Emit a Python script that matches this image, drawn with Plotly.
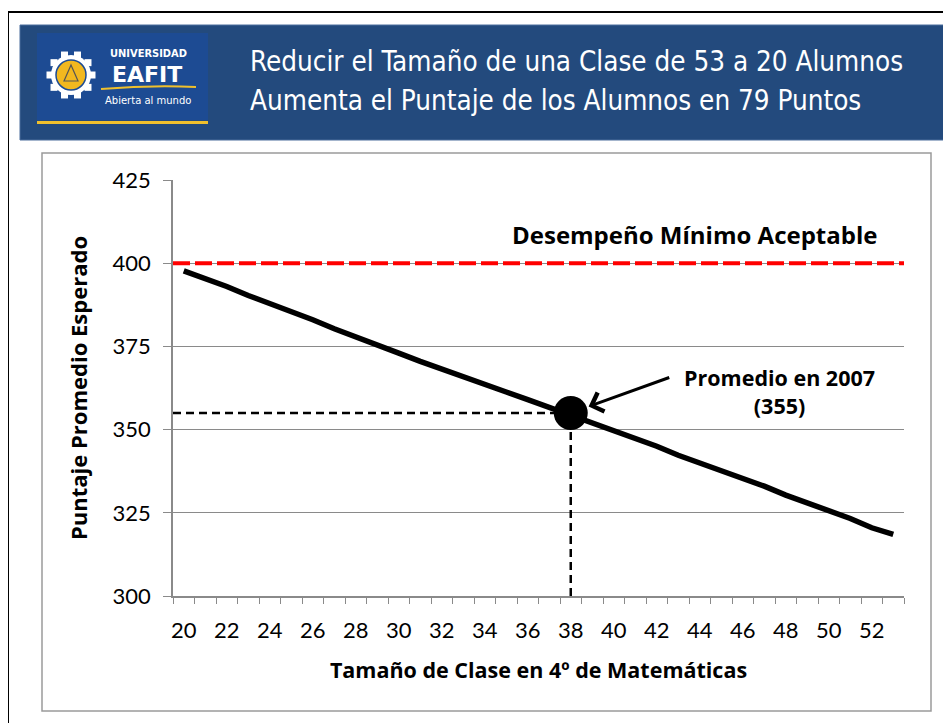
import math
import plotly.graph_objects as go

# ---------------- data ----------------
class_size = [20, 21, 22, 23, 24, 25, 26, 27, 28, 29, 30, 31, 32, 33, 34, 35, 36,
              37, 38, 39, 40, 41, 42, 43, 44, 45, 46, 47, 48, 49, 50, 51, 52, 53]
expected_score = [397.7, 395.5, 393.0, 390.3, 388.0, 385.3, 383.0, 380.3, 378.0,
                  375.3, 373.0, 370.5, 368.3, 365.8, 363.8, 361.3, 359.0, 356.7,
                  354.5, 352.3, 350.0, 347.3, 345.0, 342.3, 340.0, 337.8, 335.3,
                  333.0, 330.3, 328.0, 325.3, 323.3, 320.5, 318.5]
x_tick_vals = [20, 22, 24, 26, 28, 30, 32, 34, 36, 38, 40, 42, 44, 46, 48, 50, 52]
x_tick_text = ["20", "22", "24", "26", "28", "30", "32", "34", "36", "38", "40",
               "42", "44", "46", "48", "50", "52"]
y_tick_vals = [300, 325, 350, 375, 400, 425]
min_acceptable = 400
avg_2007_size = 38
avg_2007_score = 355

title_line1 = "Reducir el Tamaño de una Clase de 53 a 20 Alumnos"
title_line2 = "Aumenta el Puntaje de los Alumnos en 79 Puntos"

# ---------------- layout helpers (page pixel -> paper) ----------------
OFF = 8                      # default body margin of the html page
PAGE_W, PAGE_H = 951, 723
W, H = PAGE_W - OFF, PAGE_H - OFF
PL, PR, PT, PB = 173, 904, 180, 596          # plot area in page pixels


def X(px):
    return (px - PL) / (PR - PL)


def Y(py):
    return (PB - py) / (PB - PT)


TICK_FONT = "Lato, 'Open Sans', sans-serif"
BOLD_FONT = "'Open Sans', Lato, sans-serif"
TITLE_FONT = "'Liberation Sans Narrow', 'Arial Narrow', 'DejaVu Sans Condensed', sans-serif"
GRID = "#8a8a8a"

fig = go.Figure()

fig.add_trace(go.Scatter(
    x=class_size, y=expected_score, mode="lines",
    line=dict(color="black", width=5.5), hoverinfo="skip", showlegend=False))

fig.add_trace(go.Scatter(
    x=[avg_2007_size], y=[avg_2007_score], mode="markers",
    marker=dict(color="black", size=34), hoverinfo="skip", showlegend=False))

shapes = []
# outer black frame (left & top visible)
shapes.append(dict(type="rect", xref="paper", yref="paper",
                   x0=X(8), x1=X(PAGE_W + 20), y0=Y(12), y1=Y(PAGE_H + 20),
                   line=dict(color="black", width=2), fillcolor="rgba(0,0,0,0)", layer="below"))
# header band
shapes.append(dict(type="rect", xref="paper", yref="paper",
                   x0=X(20), x1=X(PAGE_W + 10), y0=Y(25), y1=Y(140),
                   line=dict(color="#4b6d9c", width=1), fillcolor="#234a7d", layer="below"))
# logo box
shapes.append(dict(type="rect", xref="paper", yref="paper",
                   x0=X(37), x1=X(208), y0=Y(33), y1=Y(120),
                   line=dict(width=0), fillcolor="#1d4b93", layer="below"))
# logo yellow bar
shapes.append(dict(type="rect", xref="paper", yref="paper",
                   x0=X(37), x1=X(208), y0=Y(121), y1=Y(124),
                   line=dict(width=0), fillcolor="#f0c02c", layer="below"))
# gear
gcx, gcy = 71, 75
for k in range(10):
    a = 2 * math.pi * k / 10
    tx, ty = gcx + 21 * math.cos(a), gcy + 21 * math.sin(a)
    shapes.append(dict(type="rect", xref="paper", yref="paper",
                       x0=X(tx - 3.5), x1=X(tx + 3.5), y0=Y(ty - 3.5), y1=Y(ty + 3.5),
                       line=dict(width=0), fillcolor="white", layer="below"))
shapes.append(dict(type="circle", xref="paper", yref="paper",
                   x0=X(gcx - 20), x1=X(gcx + 20), y0=Y(gcy - 20), y1=Y(gcy + 20),
                   line=dict(width=0), fillcolor="white", layer="below"))
shapes.append(dict(type="circle", xref="paper", yref="paper",
                   x0=X(gcx - 15), x1=X(gcx + 15), y0=Y(gcy - 15), y1=Y(gcy + 15),
                   line=dict(color="#1d4b93", width=1.5), fillcolor="#f2b81f", layer="below"))
shapes.append(dict(type="path", xref="paper", yref="paper",
                   path=f"M {X(gcx-7)},{Y(gcy+6)} L {X(gcx)},{Y(gcy-10)} L {X(gcx+7)},{Y(gcy+6)} Z",
                   line=dict(color="#555555", width=1.2), fillcolor="rgba(0,0,0,0)", layer="below"))
# yellow swoosh under EAFIT
shapes.append(dict(type="path", xref="paper", yref="paper",
                   path=f"M {X(101)},{Y(89)} Q {X(150)},{Y(85)} {X(196)},{Y(87)}",
                   line=dict(color="#f0c02c", width=2), layer="below"))
# chart box
shapes.append(dict(type="rect", xref="paper", yref="paper",
                   x0=X(42), x1=X(931), y0=Y(153), y1=Y(711),
                   line=dict(color="#9a9a9a", width=1.5), fillcolor="white", layer="below"))
# minimum acceptable line
shapes.append(dict(type="line", xref="x domain", yref="y",
                   x0=0, x1=1, y0=min_acceptable, y1=min_acceptable,
                   line=dict(color="#ff0000", width=4, dash="17px,5px"), layer="above"))
# guide lines to 2007 average
shapes.append(dict(type="line", xref="x domain", yref="y",
                   x0=0, x1=(avg_2007_size - 19.5) / 34, y0=avg_2007_score, y1=avg_2007_score,
                   line=dict(color="black", width=2.5, dash="8px,5px"), layer="above"))
shapes.append(dict(type="line", xref="x", yref="y",
                   x0=avg_2007_size, x1=avg_2007_size, y0=300, y1=avg_2007_score,
                   line=dict(color="black", width=2.5, dash="8px,5px"), layer="above"))

annotations = [
    dict(xref="paper", yref="paper", x=X(248), y=Y(62), xanchor="left", yanchor="middle",
         text=title_line1, showarrow=False,
         font=dict(family=TITLE_FONT, size=27.6, color="white")),
    dict(xref="paper", yref="paper", x=X(248), y=Y(101), xanchor="left", yanchor="middle",
         text=title_line2, showarrow=False,
         font=dict(family=TITLE_FONT, size=27.6, color="white")),
    dict(xref="paper", yref="paper", x=X(148), y=Y(53), xanchor="center", yanchor="middle",
         text="<b>UNIVERSIDAD</b>", showarrow=False,
         font=dict(family="'DejaVu Sans Condensed', sans-serif", size=11, color="white")),
    dict(xref="paper", yref="paper", x=X(147), y=Y(74), xanchor="center", yanchor="middle",
         text="<b>EAFIT</b>", showarrow=False,
         font=dict(family="'DejaVu Sans', sans-serif", size=22, color="white")),
    dict(xref="paper", yref="paper", x=X(148), y=Y(100), xanchor="center", yanchor="middle",
         text="Abierta al mundo", showarrow=False,
         font=dict(family="'DejaVu Sans', sans-serif", size=10, color="white")),
    dict(xref="x", yref="y", x=52.35, y=408.5, xanchor="right", yanchor="middle",
         text="<b>Desempeño Mínimo Aceptable</b>", showarrow=False,
         font=dict(family=BOLD_FONT, size=24, color="black")),
    dict(xref="x", yref="y", x=47.7, y=361.5, xanchor="center", yanchor="middle",
         text="<b>Promedio en 2007<br>(355)</b>", showarrow=False,
         font=dict(family=BOLD_FONT, size=21.5, color="black")),
    dict(xref="x", yref="y", x=avg_2007_size, y=avg_2007_score,
         ax=100, ay=-36, axref="pixel", ayref="pixel", text="", showarrow=True,
         arrowhead=4, arrowsize=1.3, arrowwidth=3, arrowcolor="black", standoff=19),
]

fig.update_layout(
    width=W, height=H,
    margin=dict(l=PL - OFF, r=W - (PR - OFF), t=PT - OFF, b=H - (PB - OFF), pad=0),
    paper_bgcolor="white", plot_bgcolor="rgba(0,0,0,0)",
    shapes=shapes, annotations=annotations, showlegend=False,
    xaxis=dict(
        range=[19.5, 53.5], tickvals=x_tick_vals, ticktext=x_tick_text,
        ticks="", showgrid=False, zeroline=False,
        showline=True, linecolor=GRID, linewidth=1.5,
        ticklabelstandoff=14,
        tickfont=dict(family=TICK_FONT, size=22, color="black"),
        minor=dict(tick0=19.5, dtick=1, ticks="outside", ticklen=6,
                   tickcolor=GRID, tickwidth=1.2, showgrid=False),
        title=dict(text="<b>Tamaño de Clase en 4º de Matemáticas</b>", standoff=21,
                   font=dict(family=BOLD_FONT, size=21.5, color="black")),
        fixedrange=True,
    ),
    yaxis=dict(
        range=[300, 425], tickvals=y_tick_vals,
        ticks="outside", ticklen=8, tickcolor=GRID, tickwidth=1.2,
        showgrid=True, gridcolor=GRID, gridwidth=1.2, zeroline=False,
        showline=True, linecolor=GRID, linewidth=1.5,
        ticklabelstandoff=8,
        tickfont=dict(family=TICK_FONT, size=22, color="black"),
        title=dict(text="<b>Puntaje Promedio Esperado</b>", standoff=19,
                   font=dict(family=BOLD_FONT, size=22, color="black")),
        fixedrange=True,
    ),
)

fig.write_html("out.html", config={"displayModeBar": False})
